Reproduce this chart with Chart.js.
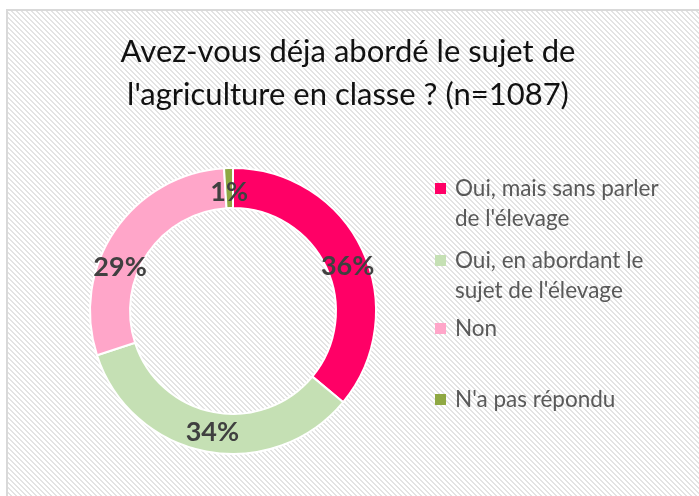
<!DOCTYPE html>
<html>
<head>
<meta charset="utf-8">
<script src="https://cdn.jsdelivr.net/npm/chart.js@4.4.1/dist/chart.umd.min.js"></script>
<style>
html,body{margin:0;padding:0;background:#fff;}
#wrap{position:relative;width:699px;height:496px;}
canvas{display:block;}
</style>
</head>
<body>
<div id="wrap"><canvas id="c" width="699" height="496"></canvas></div>
<script>
const titleLines = ["Avez-vous déja abordé le sujet de", "l'agriculture en classe ? (n=1087)"];
const categories = ["Oui, mais sans parler de l'élevage", "Oui, en abordant le sujet de l'élevage", "Non", "N'a pas répondu"];
const legendLines = [["Oui, mais sans parler", "de l'élevage"], ["Oui, en abordant le", "sujet de l'élevage"], ["Non"], ["N'a pas répondu"]];
const values = [36, 34, 29, 1];
const pctLabels = ["36%", "34%", "29%", "1%"];
const colors = ["#FF0066", "#C5E0B4", "#FFA6C9", "#8FA843"];

// label placement tweaks (styling): angle shift in radians and radius shift in px
const labelAngleShift = [0.07, -0.02, -0.23, 0];
const labelRadiusShift = [0, 0, -2, -4];

function makePattern(ctx) {
  const s = 5;
  const t = document.createElement('canvas');
  t.width = s; t.height = s;
  const c = t.getContext('2d');
  c.fillStyle = '#ffffff';
  c.fillRect(0, 0, s, s);
  c.fillStyle = '#e3e3e3';
  for (let y = 0; y < s; y++) {
    for (let x = 0; x < s; x++) {
      const d = ((x - y) % s + s) % s;
      if (d === 0 || d === 1) c.fillRect(x, y, 1, 1);
    }
  }
  return ctx.createPattern(t, 'repeat');
}

const bgPlugin = {
  id: 'bg',
  beforeDraw(chart) {
    const ctx = chart.ctx;
    ctx.save();
    ctx.fillStyle = '#ffffff';
    ctx.fillRect(0, 0, chart.width, chart.height);
    ctx.fillStyle = makePattern(ctx);
    ctx.fillRect(7, 10, chart.width - 7, chart.height - 10);
    ctx.strokeStyle = '#d9d9d9';
    ctx.lineWidth = 2;
    ctx.beginPath();
    ctx.moveTo(7, chart.height);
    ctx.lineTo(7, 10);
    ctx.lineTo(chart.width, 10);
    ctx.stroke();
    // title
    ctx.fillStyle = '#111111';
    ctx.font = '31px Lato';
    ctx.textAlign = 'center';
    ctx.textBaseline = 'middle';
    titleLines.forEach((ln, i) => ctx.fillText(ln, 348, 52 + i * 43));
    ctx.restore();
  }
};

const labelPlugin = {
  id: 'pctLabels',
  afterDatasetsDraw(chart) {
    const ctx = chart.ctx;
    const meta = chart.getDatasetMeta(0);
    ctx.save();
    ctx.font = 'bold 27px Lato';
    ctx.fillStyle = '#404040';
    ctx.textAlign = 'center';
    ctx.textBaseline = 'middle';
    meta.data.forEach((arc, i) => {
      const p = arc.getProps(['startAngle', 'endAngle', 'innerRadius', 'outerRadius', 'x', 'y'], true);
      const a = (p.startAngle + p.endAngle) / 2 + labelAngleShift[i];
      const r = (p.innerRadius + p.outerRadius) / 2 + labelRadiusShift[i];
      ctx.fillText(pctLabels[i], p.x + r * Math.cos(a), p.y + r * Math.sin(a));
    });
    ctx.restore();
  }
};

const legendPlugin = {
  id: 'customLegend',
  afterDraw(chart) {
    const ctx = chart.ctx;
    const ys = [188, 260, 328, 399];
    ctx.save();
    ctx.font = '22.5px Lato';
    ctx.textBaseline = 'middle';
    ctx.textAlign = 'left';
    legendLines.forEach((lines, i) => {
      const y = ys[i];
      ctx.fillStyle = colors[i];
      ctx.fillRect(435, y - 5, 11, 11);
      ctx.fillStyle = '#595959';
      lines.forEach((ln, j) => ctx.fillText(ln, 455, y + 1 + j * 30));
    });
    ctx.restore();
  }
};

new Chart(document.getElementById('c'), {
  type: 'doughnut',
  data: {
    labels: categories,
    datasets: [{
      data: values,
      backgroundColor: colors,
      borderColor: '#ffffff',
      borderWidth: 2,
      hoverOffset: 0
    }]
  },
  options: {
    responsive: false,
    animation: false,
    cutout: '72%',
    layout: { padding: { left: 89, right: 322, top: 167, bottom: 41 } },
    plugins: {
      legend: { display: false },
      tooltip: { enabled: false },
      title: { display: false }
    }
  },
  plugins: [bgPlugin, labelPlugin, legendPlugin]
});
</script>
</body>
</html>
